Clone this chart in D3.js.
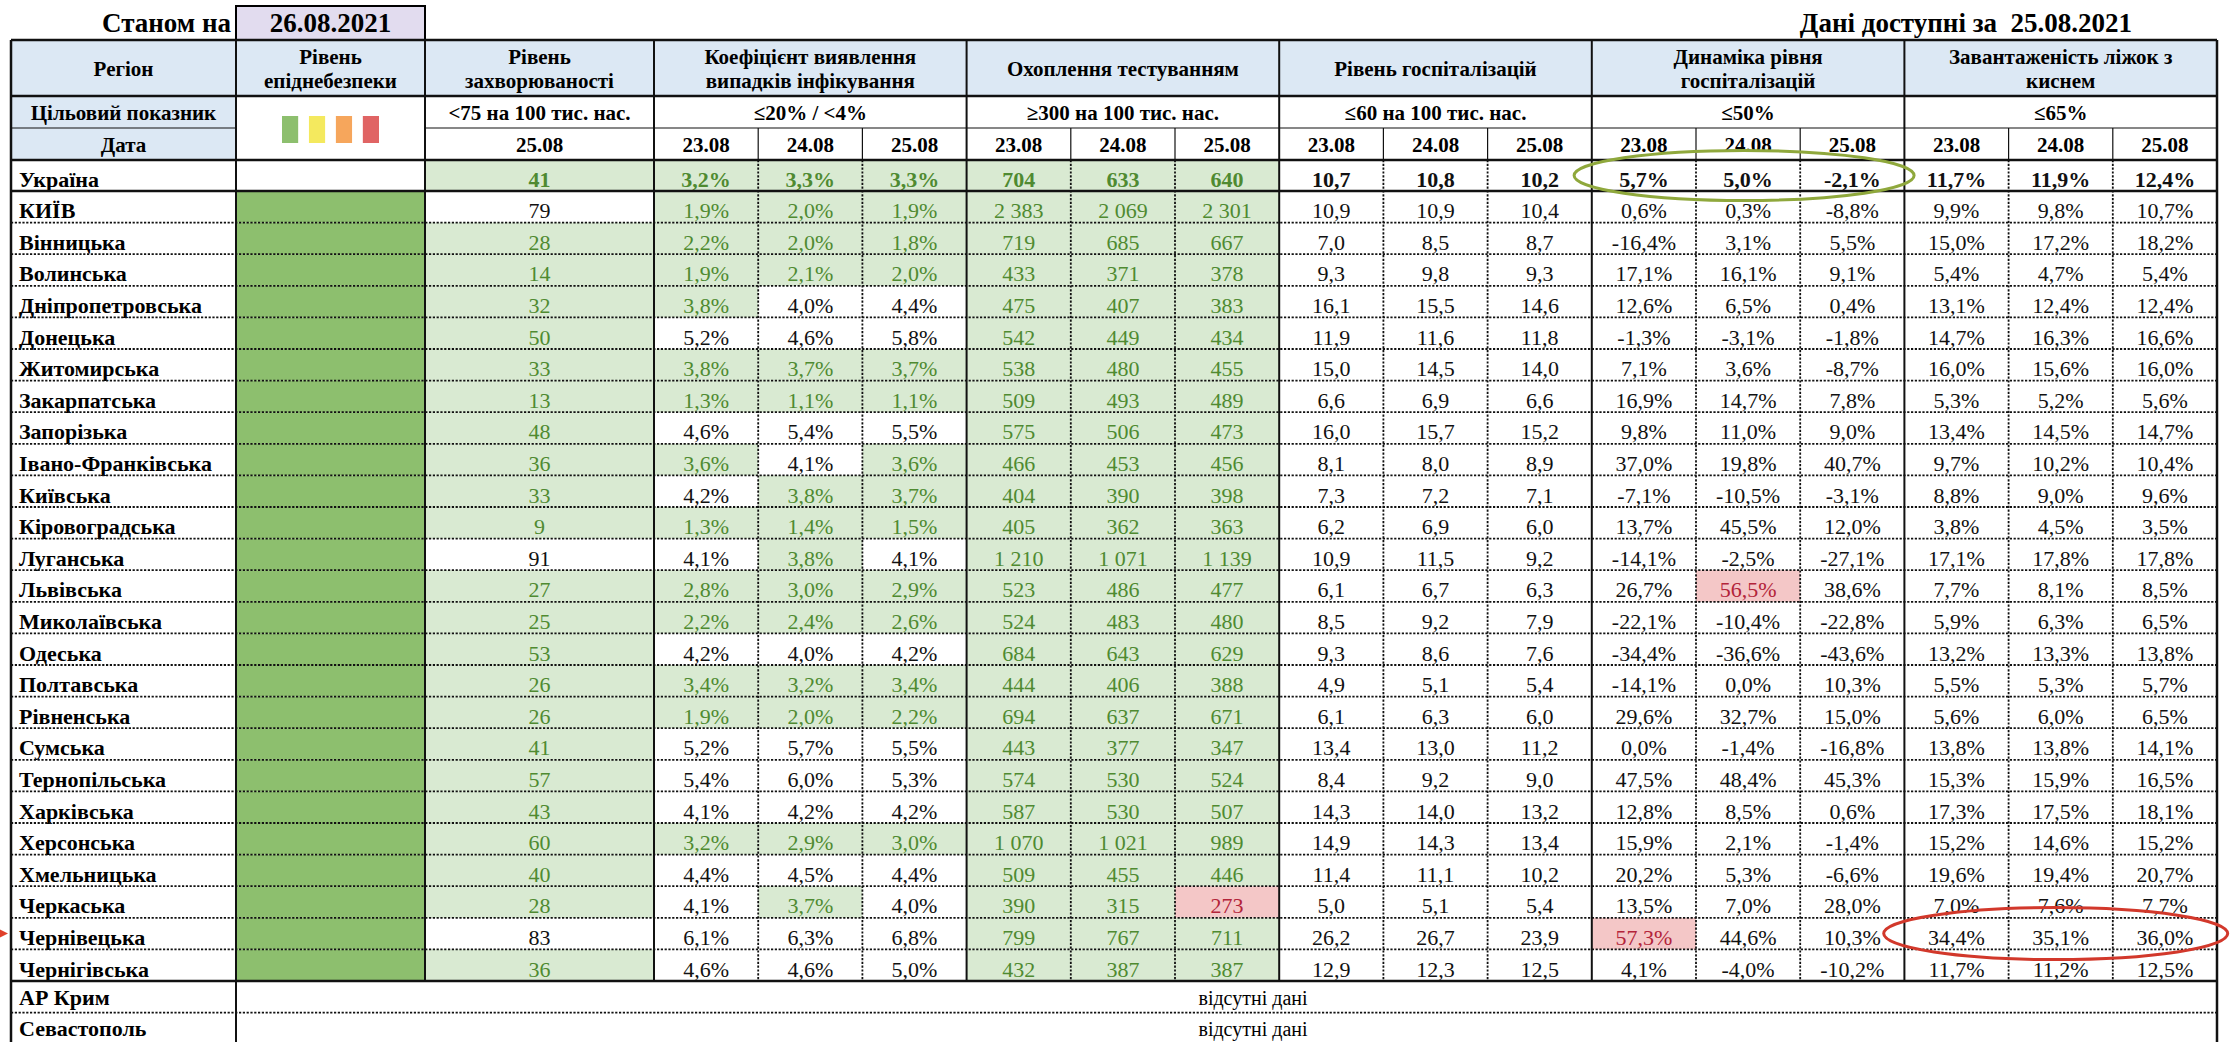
<!DOCTYPE html>
<html lang="uk">
<head>
<meta charset="UTF-8">
<title>Рівень епіднебезпеки по регіонах</title>
<script src="https://d3js.org/d3.v7.min.js"></script>
<style>
  body { margin: 0; background: #fff; }
  svg { display: block; font-family: "Liberation Serif", "Times New Roman", serif; }
</style>
</head>
<body>
<div id="chart"></div>
<script>
// ---- дані ----
const asOf = "26.08.2021";
const dataFor = "25.08.2021";
const dates = ["23.08", "24.08", "25.08"];
const incidenceDate = "25.08";
const missingText = "відсутні дані";

// перший рядок - Україна, далі регіони
const rowNames = ["Україна", "КИЇВ", "Вінницька", "Волинська", "Дніпропетровська", "Донецька",
  "Житомирська", "Закарпатська", "Запорізька", "Івано-Франківська", "Київська", "Кіровоградська",
  "Луганська", "Львівська", "Миколаївська", "Одеська", "Полтавська", "Рівненська", "Сумська",
  "Тернопільська", "Харківська", "Херсонська", "Хмельницька", "Черкаська", "Чернівецька", "Чернігівська"];
const missingRegions = ["АР Крим", "Севастополь"];

// рівень епіднебезпеки (0 - зелений), для України не вказано
const epiLevelNames = ["зелений", "жовтий", "помаранчевий", "червоний"];
const epiLevelColors = ["#8dbf6e", "#f4e95e", "#f6a65c", "#e06464"];
const epiLevel = [null, 0, 0, 0, 0, 0, 0, 0, 0, 0, 0, 0, 0, 0, 0, 0, 0, 0, 0, 0, 0, 0, 0, 0, 0, 0];

// рівень захворюваності на 25.08
const incidence = [41, 79, 28, 14, 32, 50, 33, 13, 48, 36, 33, 9, 91, 27, 25, 53, 26, 26, 41, 57, 43, 60, 40, 28, 83, 36];

// коефіцієнт виявлення, %
const detection = [[3.2, 3.3, 3.3], [1.9, 2.0, 1.9], [2.2, 2.0, 1.8], [1.9, 2.1, 2.0], [3.8, 4.0, 4.4],
  [5.2, 4.6, 5.8], [3.8, 3.7, 3.7], [1.3, 1.1, 1.1], [4.6, 5.4, 5.5], [3.6, 4.1, 3.6], [4.2, 3.8, 3.7],
  [1.3, 1.4, 1.5], [4.1, 3.8, 4.1], [2.8, 3.0, 2.9], [2.2, 2.4, 2.6], [4.2, 4.0, 4.2], [3.4, 3.2, 3.4],
  [1.9, 2.0, 2.2], [5.2, 5.7, 5.5], [5.4, 6.0, 5.3], [4.1, 4.2, 4.2], [3.2, 2.9, 3.0], [4.4, 4.5, 4.4],
  [4.1, 3.7, 4.0], [6.1, 6.3, 6.8], [4.6, 4.6, 5.0]];

// охоплення тестуванням на 100 тис.
const testing = [[704, 633, 640], [2383, 2069, 2301], [719, 685, 667], [433, 371, 378], [475, 407, 383],
  [542, 449, 434], [538, 480, 455], [509, 493, 489], [575, 506, 473], [466, 453, 456], [404, 390, 398],
  [405, 362, 363], [1210, 1071, 1139], [523, 486, 477], [524, 483, 480], [684, 643, 629], [444, 406, 388],
  [694, 637, 671], [443, 377, 347], [574, 530, 524], [587, 530, 507], [1070, 1021, 989], [509, 455, 446],
  [390, 315, 273], [799, 767, 711], [432, 387, 387]];

// рівень госпіталізацій на 100 тис.
const hospital = [[10.7, 10.8, 10.2], [10.9, 10.9, 10.4], [7.0, 8.5, 8.7], [9.3, 9.8, 9.3], [16.1, 15.5, 14.6],
  [11.9, 11.6, 11.8], [15.0, 14.5, 14.0], [6.6, 6.9, 6.6], [16.0, 15.7, 15.2], [8.1, 8.0, 8.9], [7.3, 7.2, 7.1],
  [6.2, 6.9, 6.0], [10.9, 11.5, 9.2], [6.1, 6.7, 6.3], [8.5, 9.2, 7.9], [9.3, 8.6, 7.6], [4.9, 5.1, 5.4],
  [6.1, 6.3, 6.0], [13.4, 13.0, 11.2], [8.4, 9.2, 9.0], [14.3, 14.0, 13.2], [14.9, 14.3, 13.4], [11.4, 11.1, 10.2],
  [5.0, 5.1, 5.4], [26.2, 26.7, 23.9], [12.9, 12.3, 12.5]];

// динаміка рівня госпіталізацій, %
const dynamics = [[5.7, 5.0, -2.1], [0.6, 0.3, -8.8], [-16.4, 3.1, 5.5], [17.1, 16.1, 9.1], [12.6, 6.5, 0.4],
  [-1.3, -3.1, -1.8], [7.1, 3.6, -8.7], [16.9, 14.7, 7.8], [9.8, 11.0, 9.0], [37.0, 19.8, 40.7], [-7.1, -10.5, -3.1],
  [13.7, 45.5, 12.0], [-14.1, -2.5, -27.1], [26.7, 56.5, 38.6], [-22.1, -10.4, -22.8], [-34.4, -36.6, -43.6],
  [-14.1, 0.0, 10.3], [29.6, 32.7, 15.0], [0.0, -1.4, -16.8], [47.5, 48.4, 45.3], [12.8, 8.5, 0.6],
  [15.9, 2.1, -1.4], [20.2, 5.3, -6.6], [13.5, 7.0, 28.0], [57.3, 44.6, 10.3], [4.1, -4.0, -10.2]];

// завантаженість ліжок з киснем, %
const oxygen = [[11.7, 11.9, 12.4], [9.9, 9.8, 10.7], [15.0, 17.2, 18.2], [5.4, 4.7, 5.4], [13.1, 12.4, 12.4],
  [14.7, 16.3, 16.6], [16.0, 15.6, 16.0], [5.3, 5.2, 5.6], [13.4, 14.5, 14.7], [9.7, 10.2, 10.4], [8.8, 9.0, 9.6],
  [3.8, 4.5, 3.5], [17.1, 17.8, 17.8], [7.7, 8.1, 8.5], [5.9, 6.3, 6.5], [13.2, 13.3, 13.8], [5.5, 5.3, 5.7],
  [5.6, 6.0, 6.5], [13.8, 13.8, 14.1], [15.3, 15.9, 16.5], [17.3, 17.5, 18.1], [15.2, 14.6, 15.2], [19.6, 19.4, 20.7],
  [7.0, 7.6, 7.7], [34.4, 35.1, 36.0], [11.7, 11.2, 12.5]];

// ---- формати ----
const loc = d3.formatLocale({decimal: ",", thousands: " ", grouping: [3], currency: ["", ""], minus: "-"});
const fPct = v => loc.format(".1f")(v) + "%";
const fDec = loc.format(".1f");
const fInt = loc.format(",d");

const groups = [
  {title: ["Коефіцієнт виявлення", "випадків інфікування"], target: "≤20% / <4%", values: detection, fmt: fPct, good: v => v < 4},
  {title: ["Охоплення тестуванням"], target: "≥300 на 100 тис. нас.", values: testing, fmt: fInt, good: v => v >= 300, bad: v => v < 300},
  {title: ["Рівень госпіталізацій"], target: "≤60 на 100 тис. нас.", values: hospital, fmt: fDec},
  {title: ["Динаміка рівня", "госпіталізацій"], target: "≤50%", values: dynamics, fmt: fPct, bad: v => v > 50},
  {title: ["Завантаженість ліжок з", "киснем"], target: "≤65%", values: oxygen, fmt: fPct}
];

// ---- розмітка ----
const W = 2232, H = 1042;
const xLeft = 11, c1 = 236, c2 = 425, c3 = 654, xRight = 2217;
const yTop = 40, yHead = 96, yTarget = 128, yDate = 160, yUkr = 191, rowH = 31.6;

const goodFill = "#d9ead2", goodText = "#4f8a31";
const badFill = "#f4c7c7", badText = "#b3243a";
const headFill = "#dce8f4";

const svg = d3.select("#chart").append("svg")
  .attr("width", W).attr("height", H);
svg.append("rect").attr("width", W).attr("height", H).attr("fill", "#fff");

// колонки зі значеннями (5 груп по 3 дати)
const x = d3.scaleLinear().domain([0, groups.length * 3]).range([c3, xRight]);
// рядки регіонів
const regionNames = rowNames.slice(1);
const y = d3.scaleBand().domain(regionNames).range([yUkr, yUkr + regionNames.length * rowH]);
const yMiss = d3.scaleBand().domain(missingRegions).range([y.range()[1], y.range()[1] + missingRegions.length * rowH]);
const rowTop = i => i === 0 ? yDate : y(rowNames[i]);
const rowBottom = i => i === 0 ? yUkr : y(rowNames[i]) + y.bandwidth();

const fills = svg.append("g");
const texts = svg.append("g");
const lines = svg.append("g");

// ---- заголовок ----
fills.append("rect").attr("x", c1).attr("y", 6).attr("width", c2 - c1).attr("height", yTop - 6)
  .attr("fill", "#e2dcef").attr("stroke", "#000").attr("stroke-width", 2);
texts.append("text").attr("x", c1 - 5).attr("y", 32).attr("text-anchor", "end")
  .attr("font-size", 27).attr("font-weight", "bold").text("Станом на");
texts.append("text").attr("x", (c1 + c2) / 2).attr("y", 32).attr("text-anchor", "middle")
  .attr("font-size", 27).attr("font-weight", "bold").text(asOf);
texts.append("text").attr("x", 2132).attr("y", 32).attr("text-anchor", "end")
  .attr("font-size", 27).attr("font-weight", "bold").attr("xml:space", "preserve")
  .text("Дані доступні за  " + dataFor);

// шапка таблиці
fills.append("rect").attr("x", xLeft).attr("y", yTop).attr("width", xRight - xLeft).attr("height", yHead - yTop).attr("fill", headFill);
fills.append("rect").attr("x", xLeft).attr("y", yHead).attr("width", c1 - xLeft).attr("height", yDate - yHead).attr("fill", headFill);

function headText(cx, linesArr) {
  const t = texts.append("text").attr("text-anchor", "middle").attr("font-size", 21).attr("font-weight", "bold");
  const base = linesArr.length === 1 ? 76 : 64;
  linesArr.forEach((s, i) => t.append("tspan").attr("x", cx).attr("y", base + i * 24).text(s));
}
headText((xLeft + c1) / 2, ["Регіон"]);
headText((c1 + c2) / 2, ["Рівень", "епіднебезпеки"]);
headText((c2 + c3) / 2, ["Рівень", "захворюваності"]);
groups.forEach((g, gi) => headText((x(gi * 3) + x(gi * 3 + 3)) / 2, g.title));

// цільовий показник і дата
const boldText = (cx, yy, s, size) => texts.append("text").attr("x", cx).attr("y", yy)
  .attr("text-anchor", "middle").attr("font-size", size || 21).attr("font-weight", "bold").text(s);
boldText((xLeft + c1) / 2, yTarget - 8, "Цільовий показник");
boldText((xLeft + c1) / 2, yDate - 8, "Дата");
boldText((c2 + c3) / 2, yTarget - 8, "<75 на 100 тис. нас.");
boldText((c2 + c3) / 2, yDate - 8, incidenceDate);
groups.forEach((g, gi) => {
  boldText((x(gi * 3) + x(gi * 3 + 3)) / 2, yTarget - 8, g.target);
  dates.forEach((d, j) => boldText((x(gi * 3 + j) + x(gi * 3 + j + 1)) / 2, yDate - 8, d));
});

// легенда рівнів епіднебезпеки
const lx = d3.scaleBand().domain(epiLevelNames).range([282, 379]).paddingInner(0.4);
fills.selectAll("rect.lvl").data(epiLevelNames).join("rect").attr("class", "lvl")
  .attr("x", d => lx(d)).attr("y", 116).attr("width", lx.bandwidth()).attr("height", 27)
  .attr("fill", (d, i) => epiLevelColors[i]);

// ---- рядки ----
rowNames.forEach((name, i) => {
  const top = rowTop(i), bot = rowBottom(i), base = bot - 4.5;
  const isUkr = i === 0;
  const weight = isUkr ? "bold" : "normal";

  texts.append("text").attr("x", xLeft + 8).attr("y", base).attr("font-size", 22).attr("font-weight", "bold").text(name);

  if (epiLevel[i] !== null) {
    fills.append("rect").attr("x", c1).attr("y", top).attr("width", c2 - c1).attr("height", bot - top)
      .attr("fill", epiLevelColors[epiLevel[i]]);
  }

  const cell = (x0, x1, v, s, good, bad) => {
    const ok = good && good(v), ko = bad && bad(v);
    if (ok || ko) fills.append("rect").attr("x", x0).attr("y", top).attr("width", x1 - x0).attr("height", bot - top)
      .attr("fill", ok ? goodFill : badFill);
    texts.append("text").attr("x", (x0 + x1) / 2).attr("y", base).attr("text-anchor", "middle")
      .attr("font-size", 22).attr("font-weight", weight)
      .attr("fill", ok ? goodText : ko ? badText : "#111").text(s);
  };
  cell(c2, c3, incidence[i], String(incidence[i]), v => v < 75);
  groups.forEach((g, gi) => g.values[i].forEach((v, j) =>
    cell(x(gi * 3 + j), x(gi * 3 + j + 1), v, g.fmt(v), g.good, g.bad)));
});

missingRegions.forEach(name => {
  const base = yMiss(name) + yMiss.bandwidth() - 8;
  texts.append("text").attr("x", xLeft + 8).attr("y", base).attr("font-size", 22).attr("font-weight", "bold").text(name);
  texts.append("text").attr("x", 1253).attr("y", base).attr("text-anchor", "middle").attr("font-size", 20).text(missingText);
});

// ---- лінії ----
const hline = (x1, x2, yy, w, dotted) => lines.append("line").attr("x1", x1).attr("x2", x2).attr("y1", yy).attr("y2", yy)
  .attr("stroke", "#111").attr("stroke-width", w).attr("stroke-dasharray", dotted ? "2.2,1.6" : null);
const vline = (xx, y1, y2, w, dotted) => lines.append("line").attr("x1", xx).attr("x2", xx).attr("y1", y1).attr("y2", y2)
  .attr("stroke", "#111").attr("stroke-width", w).attr("stroke-dasharray", dotted ? "2.2,1.6" : null);

const yEnd = y.range()[1];
regionNames.slice(0, -1).forEach(n => hline(xLeft, xRight, y(n) + y.bandwidth(), 1.8, true));
hline(xLeft, xRight, yMiss(missingRegions[1]), 1.8, true);

// вертикальні пунктирні між датами
d3.range(groups.length * 3).filter(k => k % 3 !== 0).forEach(k => {
  vline(x(k), yTarget, yDate, 1.2);
  vline(x(k), yDate, yEnd, 1.8, true);
});

hline(xLeft, xRight, yTop, 2.5);
hline(xLeft, xRight, yHead, 2.5);
hline(xLeft, c1, yTarget, 1.2);
hline(c2, xRight, yTarget, 1.2);
hline(xLeft, xRight, yDate, 2.5);
hline(xLeft, xRight, yUkr, 2.5);
hline(xLeft, xRight, yEnd, 2.5);

vline(xLeft, yTop, H, 2.5);
vline(c1, yTop, H, 2);
vline(c2, yTop, yEnd, 2);
vline(c3, yTop, yEnd, 2);
d3.range(1, groups.length).forEach(gi => vline(x(gi * 3), yTop, yEnd, 2));
vline(xRight, yTop, H, 2.5);

// ---- позначки ----
const ann = svg.append("g").attr("fill", "none").attr("stroke-width", 3);
const dynG = 3, oxyG = 4;
ann.append("ellipse")
  .attr("cx", (x(dynG * 3) + x(dynG * 3 + 3)) / 2 - 4).attr("cy", (yDate + yUkr) / 2)
  .attr("rx", 170).attr("ry", 25).attr("stroke", "#8fa83c");
const chern = rowNames[24];
ann.append("ellipse")
  .attr("cx", (x(oxyG * 3) + x(oxyG * 3 + 3)) / 2 - 5).attr("cy", y(chern) + y.bandwidth() / 2)
  .attr("rx", 172).attr("ry", 26).attr("stroke", "#d2382b");
svg.append("path")
  .attr("d", `M0,${y(chern) + y.bandwidth() / 2 - 4} L8,${y(chern) + y.bandwidth() / 2} L0,${y(chern) + y.bandwidth() / 2 + 4} Z`)
  .attr("fill", "#e0402a");
</script>
</body>
</html>
